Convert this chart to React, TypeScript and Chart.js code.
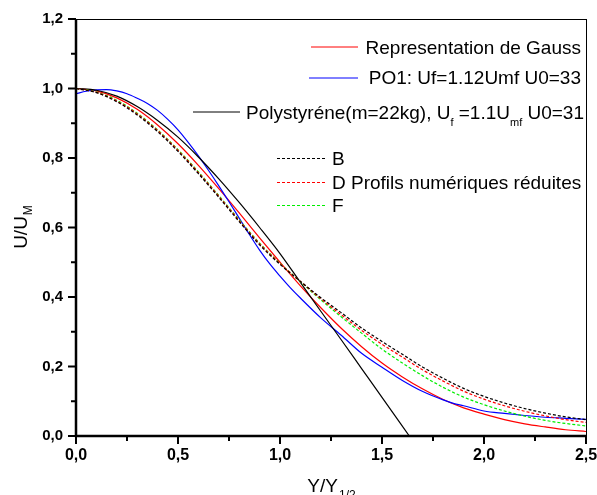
import React, { useEffect, useRef } from 'react';
import { Chart, registerables } from 'chart.js';

Chart.register(...registerables);

// ---------- data ----------
const gaussX = [0, 0.1, 0.2, 0.3, 0.4, 0.5, 0.6, 0.7, 0.8, 0.9, 1.0, 1.1, 1.2, 1.3, 1.4, 1.5, 1.6, 1.7, 1.8, 1.9, 2.0, 2.1, 2.2, 2.3, 2.4, 2.5];
const gaussY = [1.0, 0.993, 0.973, 0.94, 0.895, 0.841, 0.779, 0.712, 0.642, 0.57, 0.5, 0.432, 0.369, 0.31, 0.257, 0.21, 0.17, 0.135, 0.105, 0.081, 0.063, 0.047, 0.035, 0.026, 0.018, 0.013];

const po1X = [0, 0.05, 0.1, 0.15, 0.2, 0.25, 0.3, 0.35, 0.4, 0.45, 0.5, 0.55, 0.6, 0.65, 0.7, 0.75, 0.8, 0.85, 0.9, 0.95, 1.0, 1.05, 1.1, 1.2, 1.3, 1.4, 1.5, 1.6, 1.7, 1.8, 1.85, 1.9, 2.0, 2.1, 2.2, 2.3, 2.4, 2.5];
const po1Y = [0.985, 0.992, 0.996, 0.997, 0.993, 0.985, 0.972, 0.957, 0.937, 0.911, 0.881, 0.845, 0.806, 0.764, 0.72, 0.674, 0.627, 0.58, 0.535, 0.495, 0.46, 0.427, 0.397, 0.34, 0.29, 0.238, 0.198, 0.16, 0.128, 0.104, 0.094, 0.087, 0.072, 0.065, 0.059, 0.054, 0.051, 0.048];

const polyX = [0, 0.1, 0.2, 0.3, 0.4, 0.5, 0.6, 0.7, 0.8, 0.9, 1.0, 1.1, 1.2, 1.3, 1.4, 1.5, 1.634];
const polyY = [1.0, 0.995, 0.978, 0.948, 0.908, 0.86, 0.803, 0.74, 0.672, 0.6, 0.525, 0.442, 0.359, 0.277, 0.194, 0.111, 0.0];

const profX = [0, 0.1, 0.2, 0.3, 0.4, 0.5, 0.6, 0.7, 0.8, 0.9, 1.0, 1.1, 1.2, 1.3, 1.4, 1.5, 1.6, 1.7, 1.8, 1.9, 2.0, 2.1, 2.2, 2.3, 2.4, 2.5, 2.55];
const profB = [1.0, 0.988, 0.962, 0.924, 0.876, 0.819, 0.755, 0.687, 0.617, 0.55, 0.494, 0.445, 0.398, 0.355, 0.311, 0.272, 0.235, 0.198, 0.166, 0.137, 0.114, 0.095, 0.079, 0.066, 0.055, 0.047, 0.043];
const profD = [1.0, 0.989, 0.964, 0.927, 0.879, 0.822, 0.758, 0.69, 0.62, 0.553, 0.496, 0.445, 0.395, 0.349, 0.304, 0.264, 0.227, 0.19, 0.158, 0.129, 0.106, 0.087, 0.071, 0.058, 0.047, 0.039, 0.035];
const profF = [1.0, 0.99, 0.966, 0.929, 0.881, 0.824, 0.76, 0.692, 0.622, 0.555, 0.497, 0.444, 0.392, 0.343, 0.296, 0.25, 0.21, 0.173, 0.14, 0.112, 0.09, 0.072, 0.057, 0.045, 0.036, 0.029, 0.026];

const xMajor = [0, 0.5, 1.0, 1.5, 2.0, 2.5];
const xMinor = [0.25, 0.75, 1.25, 1.75, 2.25];
const yMajor = [0, 0.2, 0.4, 0.6, 0.8, 1.0, 1.2];
const yMinor = [0.1, 0.3, 0.5, 0.7, 0.9, 1.1];

const FONT = '"Liberation Sans", Arial, Helvetica, sans-serif';

const toPts = (xs: number[], ys: number[]) => xs.map((x, i) => ({ x, y: ys[i] }));
const fmt = (v: number) => v.toFixed(1).replace('.', ',');

type Seg = { t: string; sub?: boolean };

function drawSegs(ctx: CanvasRenderingContext2D, segs: Seg[], rightX: number, baseY: number, size: number, subSize: number) {
  const widths = segs.map((s) => {
    ctx.font = `${s.sub ? subSize : size}px ${FONT}`;
    return ctx.measureText(s.t).width;
  });
  const total = widths.reduce((a, b) => a + b, 0);
  let x = rightX - total;
  segs.forEach((s, i) => {
    ctx.font = `${s.sub ? subSize : size}px ${FONT}`;
    ctx.fillText(s.t, x, s.sub ? baseY + 7 : baseY);
    x += widths[i];
  });
}

const framePlugin = {
  id: 'frameAndLegend',
  afterDatasetsDraw(chart: any) {
    const { ctx, chartArea } = chart;
    const { left, right, top, bottom } = chartArea;
    const xs = chart.scales.x;
    const ys = chart.scales.y;
    ctx.save();
    ctx.strokeStyle = '#000';
    ctx.fillStyle = '#000';
    ctx.setLineDash([]);

    // thin frame top/right
    ctx.lineWidth = 1;
    ctx.beginPath();
    ctx.moveTo(left, top + 0.5);
    ctx.lineTo(right + 0.5, top + 0.5);
    ctx.moveTo(right + 0.5, top);
    ctx.lineTo(right + 0.5, bottom);
    ctx.stroke();

    // thick axes
    ctx.lineWidth = 2.5;
    ctx.beginPath();
    ctx.moveTo(left, top);
    ctx.lineTo(left, bottom + 1.25);
    ctx.moveTo(left - 1.25, bottom);
    ctx.lineTo(right + 1, bottom);
    ctx.stroke();

    // ticks
    ctx.lineWidth = 2;
    ctx.beginPath();
    xMajor.forEach((v) => {
      const p = xs.getPixelForValue(v);
      ctx.moveTo(p, bottom);
      ctx.lineTo(p, bottom + 8);
    });
    xMinor.forEach((v) => {
      const p = xs.getPixelForValue(v);
      ctx.moveTo(p, bottom);
      ctx.lineTo(p, bottom + 5);
    });
    yMajor.forEach((v) => {
      const p = ys.getPixelForValue(v);
      ctx.moveTo(left, p);
      ctx.lineTo(left - 8, p);
    });
    yMinor.forEach((v) => {
      const p = ys.getPixelForValue(v);
      ctx.moveTo(left, p);
      ctx.lineTo(left - 5, p);
    });
    ctx.stroke();

    // tick labels
    ctx.font = `bold 15px ${FONT}`;
    ctx.textAlign = 'right';
    ctx.textBaseline = 'middle';
    yMajor.forEach((v) => {
      ctx.fillText(fmt(v), left - 13, ys.getPixelForValue(v));
    });
    ctx.font = `bold 16px ${FONT}`;
    ctx.textAlign = 'center';
    xMajor.forEach((v) => {
      ctx.fillText(fmt(v), xs.getPixelForValue(v), bottom + 20);
    });

    // axis titles
    ctx.textAlign = 'left';
    ctx.textBaseline = 'alphabetic';
    // X title: Y/Y_{1/2}
    ctx.font = `19px ${FONT}`;
    const wMain = ctx.measureText('Y/Y').width;
    ctx.font = `12px ${FONT}`;
    const wSub = ctx.measureText('1/2').width;
    const cx = (left + right) / 2;
    const sx = cx - (wMain + wSub) / 2;
    ctx.font = `19px ${FONT}`;
    ctx.fillText('Y/Y', sx, 492);
    ctx.font = `12px ${FONT}`;
    ctx.fillText('1/2', sx + wMain + 1, 499);

    // Y title: U/U_M (rotated)
    ctx.save();
    ctx.translate(27, (top + bottom) / 2);
    ctx.rotate(-Math.PI / 2);
    ctx.font = `19px ${FONT}`;
    const wu = ctx.measureText('U/U').width;
    ctx.font = `12px ${FONT}`;
    const wm = ctx.measureText('M').width;
    const ux = -(wu + wm) / 2;
    ctx.font = `19px ${FONT}`;
    ctx.fillText('U/U', ux, 0);
    ctx.font = `12px ${FONT}`;
    ctx.fillText('M', ux + wu + 1, 5);
    ctx.restore();

    // legend
    const sample = (x1: number, x2: number, y: number, color: string, dash: number[]) => {
      ctx.save();
      ctx.strokeStyle = color;
      ctx.lineWidth = 1;
      ctx.setLineDash(dash);
      ctx.beginPath();
      ctx.moveTo(x1, y + 0.5);
      ctx.lineTo(x2, y + 0.5);
      ctx.stroke();
      ctx.restore();
    };
    const LS = 19;
    sample(311, 358, 46.5, '#ff0000', []);
    sample(309, 358, 77.5, '#0000ff', []);
    sample(193, 240, 111.5, '#000000', []);
    sample(277, 325, 158, '#000000', [3, 2]);
    sample(277, 325, 182, '#ff0000', [3, 2]);
    sample(277, 325, 205, '#00ee00', [3, 2]);

    ctx.fillStyle = '#000';
    ctx.font = `${LS}px ${FONT}`;
    ctx.textAlign = 'right';
    ctx.fillText('Representation de Gauss', 581, 53.5);
    ctx.fillText('PO1: Uf=1.12Umf U0=33', 581, 84);
    ctx.textAlign = 'left';
    drawSegs(ctx, [
      { t: 'Polystyréne(m=22kg), U' },
      { t: 'f', sub: true },
      { t: ' =1.1U' },
      { t: 'mf', sub: true },
      { t: ' U0=31' },
    ], 584, 119, LS, 11);
    ctx.font = `${LS}px ${FONT}`;
    ctx.fillText('B', 332, 164.5);
    ctx.fillText('D Profils numériques réduites', 332, 188.5);
    ctx.fillText('F', 332, 211.5);

    ctx.restore();
  },
};

export default function App() {
  const ref = useRef<HTMLCanvasElement>(null);

  useEffect(() => {
    if (!ref.current) return;
    const line = (label: string, xs: number[], ys: number[], color: string, dash: number[], clip: boolean) => ({
      label,
      data: toPts(xs, ys),
      borderColor: color,
      backgroundColor: color,
      borderWidth: 1.2,
      borderDash: dash,
      pointRadius: 0,
      fill: false,
      cubicInterpolationMode: 'monotone' as const,
      clip: clip ? undefined : false,
    });

    const chart = new Chart(ref.current, {
      type: 'line',
      data: {
        datasets: [
          line('B', profX, profB, '#000000', [3, 2], false),
          line('D Profils numériques réduites', profX, profD, '#ff0000', [3, 2], false),
          line('F', profX, profF, '#00ee00', [3, 2], false),
          line('Polystyréne(m=22kg), Uf =1.1Umf U0=31', polyX, polyY, '#000000', [], true),
          line('PO1: Uf=1.12Umf U0=33', po1X, po1Y, '#0000ff', [], true),
          line('Representation de Gauss', gaussX, gaussY, '#ff0000', [], true),
        ] as any,
      },
      options: {
        animation: false,
        responsive: false,
        maintainAspectRatio: false,
        layout: { padding: { top: 19, right: 11, left: 0, bottom: 0 } },
        plugins: { legend: { display: false }, tooltip: { enabled: false } },
        scales: {
          x: {
            type: 'linear',
            min: 0,
            max: 2.5,
            grid: { display: false, drawTicks: false },
            border: { display: false },
            ticks: { display: false, stepSize: 0.5 },
            afterFit: (s: any) => {
              s.height = 59;
            },
          },
          y: {
            type: 'linear',
            min: 0,
            max: 1.2,
            grid: { display: false, drawTicks: false },
            border: { display: false },
            ticks: { display: false, stepSize: 0.2 },
            afterFit: (s: any) => {
              s.width = 76;
            },
          },
        },
      } as any,
      plugins: [framePlugin],
    });
    return () => chart.destroy();
  }, []);

  return (
    <div style={{ position: 'absolute', left: 0, top: 0, width: 597, height: 495, background: '#fff' }}>
      <canvas ref={ref} width={597} height={495} style={{ display: 'block' }} />
    </div>
  );
}
